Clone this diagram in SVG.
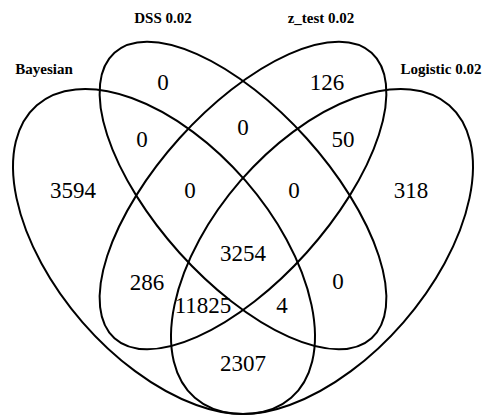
<svg xmlns="http://www.w3.org/2000/svg" width="494" height="419" viewBox="0 0 494 419">
<style>
.e{fill:none;stroke:#000;stroke-width:2}
.n{font-family:'Liberation Serif','Times New Roman',serif;font-size:23px;text-anchor:middle;fill:#000}
.c{font-family:'Liberation Serif','Times New Roman',serif;font-size:15px;font-weight:bold;text-anchor:middle;fill:#000}
</style>
<rect width="494" height="419" fill="#fff"/>
<g id="connectors">
<ellipse id="set-bayesian" class="e" cx="164" cy="251.5" rx="193.8" ry="107.9" transform="rotate(49 164 251.5)"/>
<ellipse id="set-dss" class="e" cx="243" cy="195.5" rx="192.1" ry="85.5" transform="rotate(48 243 195.5)"/>
<ellipse id="set-ztest" class="e" cx="243" cy="195.5" rx="192.1" ry="85.5" transform="rotate(-48 243 195.5)"/>
<ellipse id="set-logistic" class="e" cx="322" cy="251.5" rx="193.8" ry="107.9" transform="rotate(-49 322 251.5)"/>
</g>
<g id="labels">
<text class="c" x="44" y="74">Bayesian</text>
<text class="c" x="163" y="23">DSS 0.02</text>
<text class="c" x="321" y="23">z_test 0.02</text>
<text class="c" x="441" y="74">Logistic 0.02</text>
</g>
<g id="counts">
<text class="n" x="163" y="90">0</text>
<text class="n" x="327" y="90">126</text>
<text class="n" x="142" y="147">0</text>
<text class="n" x="243" y="135">0</text>
<text class="n" x="343" y="147">50</text>
<text class="n" x="73" y="198">3594</text>
<text class="n" x="190" y="198">0</text>
<text class="n" x="294" y="198">0</text>
<text class="n" x="411" y="198">318</text>
<text class="n" x="243" y="261">3254</text>
<text class="n" x="147" y="290">286</text>
<text class="n" x="338" y="289">0</text>
<text class="n" x="203" y="313">11825</text>
<text class="n" x="282" y="313">4</text>
<text class="n" x="243" y="371">2307</text>
</g>
</svg>
